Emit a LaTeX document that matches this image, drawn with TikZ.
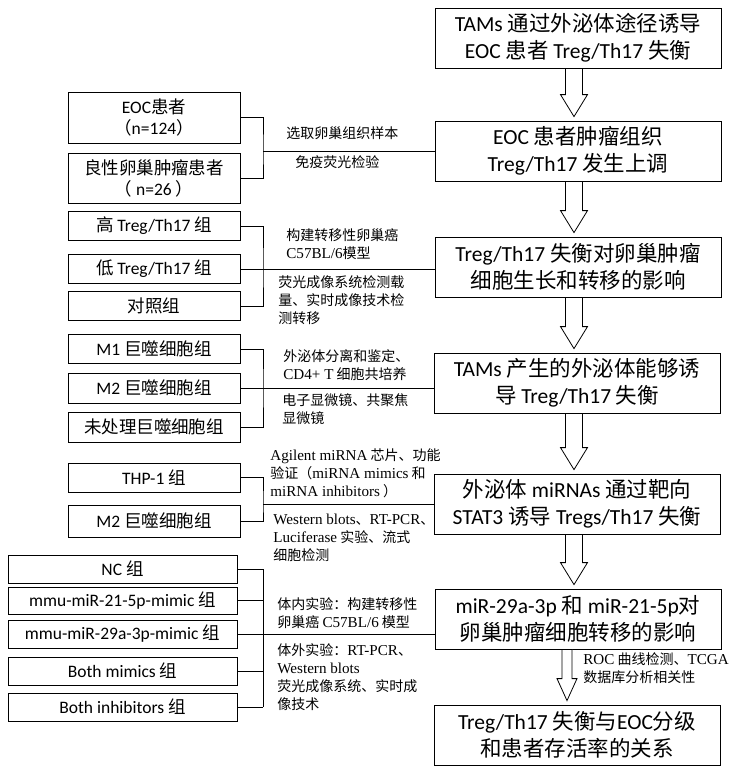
\documentclass[tikz,border=0pt]{standalone}
\usepackage{fontspec}
\setmainfont{Noto Sans CJK SC}
\newfontfamily\calfont{Carlito}
\newfontfamily\tnrfont{Liberation Serif}[Scale=1.08]
\newcommand\en[1]{{\calfont #1}}
\newcommand\tn[1]{{\tnrfont #1}}
\usetikzlibrary{calc}

% hollow block arrow: [half shaft width]{from}{to}{x centre}
\newcommand\hollowarrow[4][8.5pt]{%
  \draw[fill=white] let \p1=(#2.south), \p2=(#3.north) in
    (#4pt-#1,\y1) -- (#4pt+#1,\y1) -- (#4pt+#1,\y2+26pt) -- (#4pt+#1+5pt,\y2+26pt)
    -- (#4pt,\y2+4pt) -- (#4pt-#1-5pt,\y2+26pt) -- (#4pt-#1,\y2+26pt) -- cycle;}

\begin{document}
\begin{tikzpicture}[x=1pt, y=-1pt, line width=0.8pt,
  mainbox/.style={draw, minimum width=286, minimum height=60, align=center, inner sep=2pt, font=\fontsize{21.5}{27}\selectfont},
  grpbox/.style={draw, minimum width=172, minimum height=29, align=center, inner sep=0pt, font=\fontsize{17.5}{21}\selectfont},
  lab/.style={anchor=west, align=left, inner sep=0pt, font=\fontsize{14}{18}\selectfont}]
	\useasboundingbox (0,0) rectangle (736,769);
	% right column
	\node[mainbox] (b1) at (578,38) {\en{TAMs} 通过外泌体途径诱导\\\en{EOC} 患者 \en{Treg/Th17} 失衡};
	\node[mainbox] (b2) at (578,151) {\en{EOC} 患者肿瘤组织\\\en{Treg/Th17} 发生上调};
	\node[mainbox] (b3) at (578,267) {\en{Treg/Th17} 失衡对卵巢肿瘤\\细胞生长和转移的影响};
	\node[mainbox] (b4) at (577,383) {\en{TAMs} 产生的外泌体能够诱\\导 \en{Treg/Th17} 失衡};
	\node[mainbox] (b5) at (577,504) {外泌体 \en{miRNAs} 通过靶向\\\en{STAT3} 诱导 \en{Tregs/Th17} 失衡};
	\node[mainbox] (b6) at (578,619) {\en{miR-29a-3p} 和 \en{miR-21-5p}对\\卵巢肿瘤细胞转移的影响};
	\node[mainbox] (b7) at (577,735) {\en{Treg/Th17} 失衡与\en{EOC}分级\\和患者存活率的关系};
	\foreach \a/\b in {b1/b2, b2/b3, b3/b4, b4/b5, b5/b6} {\hollowarrow{\a}{\b}{574}}
	\hollowarrow[5pt]{b6}{b7}{567}
	\node[lab] (t6) at (583,668) {\tn{ROC} 曲线检测、\tn{TCGA}\\数据库分析相关性};
	% left groups
	\node[grpbox, minimum height=51] (L1a) at (154,117.5) {\en{EOC}患者\\（\en{n=124}）};
	\node[grpbox, minimum height=50] (L1b) at (154,178) {良性卵巢肿瘤患者\\（ \en{n=26} ）};
	\node[grpbox] (L2a) at (154,226) {高 \en{Treg/Th17} 组};
	\node[grpbox] (L2b) at (154,269) {低 \en{Treg/Th17} 组};
	\node[grpbox] (L2c) at (154,306) {对照组};
	\node[grpbox] (L3a) at (154,349) {\en{M1} 巨噬细胞组};
	\node[grpbox, minimum height=30] (L3b) at (154,388) {\en{M2} 巨噬细胞组};
	\node[grpbox, minimum height=30] (L3c) at (154,427) {未处理巨噬细胞组};
	\node[grpbox] (L4a) at (154,477.5) {\en{THP-1} 组};
	\node[grpbox, minimum height=32] (L4b) at (154,521) {\en{M2} 巨噬细胞组};
	\node[grpbox, minimum width=229, minimum height=28] (L5a) at (122.5,569) {\en{NC} 组};
	\node[grpbox, minimum width=229, minimum height=27] (L5b) at (122.5,600.5) {\en{mmu-miR-21-5p-mimic} 组};
	\node[grpbox, minimum width=229, minimum height=28] (L5c) at (122.5,634) {\en{mmu-miR-29a-3p-mimic} 组};
	\node[grpbox, minimum width=229, minimum height=28] (L5d) at (122.5,671) {\en{Both mimics} 组};
	\node[grpbox, minimum width=229, minimum height=28] (L5e) at (122.5,707) {\en{Both inhibitors} 组};
	% method labels
	\node[lab] (t1a) at (286,133) {选取卵巢组织样本};
	\node[lab] (t1b) at (295,162) {免疫荧光检验};
	\node[lab] (t2a) at (286,244) {构建转移性卵巢癌\\\tn{C57BL/6}模型};
	\node[lab] (t2b) at (278,300) {荧光成像系统检测载\\量、实时成像技术检\\测转移};
	\node[lab] (t3a) at (283,365) {外泌体分离和鉴定、\\\tn{CD4+ T} 细胞共培养};
	\node[lab] (t3b) at (282,409) {电子显微镜、共聚焦\\显微镜};
	\node[lab] (t4a) at (270,473) {\tn{Agilent miRNA} 芯片、功能\\验证（\tn{miRNA mimics} 和\\\tn{miRNA inhibitors} ）};
	\node[lab] (t4b) at (273,538) {\tn{Western blots}、\tn{RT-PCR}、\\\tn{Luciferase} 实验、流式\\细胞检测};
	\node[lab] (t5a) at (277,613) {体内实验：构建转移性\\卵巢癌 \tn{C57BL/6} 模型};
	\node[lab] (t5b) at (277,677) {体外实验：\tn{RT-PCR}、\\\tn{Western blots}\\荧光成像系统、实时成\\像技术};
	% connectors
	\coordinate (spine) at (263,0);
	\draw (L1a.east) -| (b2.west -| spine) |- (L1b.east);
	\draw (b2.west -| spine) -- (b2.west);
	\draw (L2a.east) -| (spine |- L2b.east) |- (L2c.east);
	\draw (L2b.east) -- (L2b.east -| b3.west);
	\draw (L3a.east) -| (spine |- L3b.east) |- (L3c.east);
	\draw (L3b.east) -- (L3b.east -| b4.west);
	\draw (L4a.east) -| (b5.west -| spine) |- (L4b.east);
	\draw (b5.west -| spine) -- (b5.west);
	\foreach \n in {L5a, L5b, L5c, L5d, L5e} {\draw (\n.east) -- (\n.east -| spine);}
	\draw (L5a.east -| spine) -- (L5e.east -| spine);
	\draw (L5c.east) -- (L5c.east -| b6.west);
\end{tikzpicture}
\end{document}
